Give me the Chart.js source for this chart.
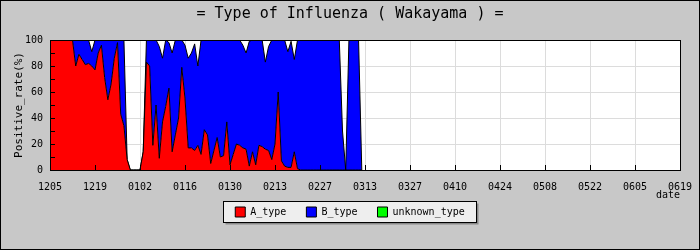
<!DOCTYPE html>
<html lang="en">
<head>
<meta charset="UTF-8">
<title>Type of Influenza ( Wakayama )</title>
<script src="https://cdn.jsdelivr.net/npm/chart.js"></script>
<style>
    body { margin: 0; background: #c8c8c8; }
    #wrap { width: 700px; height: 250px; }
</style>
</head>
<body>
<div id="wrap"><canvas id="fluChart" width="700" height="250"></canvas></div>
<script>
// tick labels, one every 14 days (1205 .. 0619)
var tickLabels = ['1205', '1219', '0102', '0116', '0130', '0213', '0227', '0313',
    '0327', '0410', '0424', '0508', '0522', '0605', '0619'];

// daily positive rate (%) from 1205
var aType = [100, 100, 100, 100, 100, 100, 100, 100, 80, 89,
    85, 81, 82, 80, 77, 90, 96, 71, 54, 66,
    86, 98, 43, 34, 8, 0, 0, 0, 0, 14,
    83, 80, 19, 50, 9, 37, 49, 63, 14, 27,
    40, 79, 55, 17, 17, 15, 19, 12, 31, 27,
    5, 15, 25, 10, 11, 37, 4, 12, 20, 19,
    17, 16, 3, 14, 4, 19, 18, 16, 15, 8,
    20, 60, 7, 3, 2, 2, 14, 1, 0, 0,
    0, 0, 0, 0, 0, 0, 0, 0, 0, 0,
    0, 0, 0, 0, 0, 0, 0, 0];
var bType = [0, 0, 0, 0, 0, 0, 0, 0, 20, 11,
    15, 19, 18, 11, 23, 10, 4, 29, 46, 34,
    14, 2, 57, 66, 0, 0, 0, 0, 0, 0,
    17, 20, 81, 50, 86, 49, 51, 35, 76, 73,
    60, 21, 41, 69, 73, 82, 61, 88, 69, 73,
    95, 85, 75, 90, 89, 63, 96, 88, 80, 81,
    79, 74, 96, 86, 96, 81, 82, 67, 80, 92,
    80, 40, 93, 97, 89, 97, 71, 99, 100, 100,
    100, 100, 100, 100, 100, 100, 100, 100, 100, 100,
    100, 30, 0, 100, 100, 100, 100, 0];
var unknownType = [];

function toPoints(values) {
    return values.map(function (v, i) { return { x: i, y: v }; });
}

var frame = {
    id: 'frame',
    afterLayout: function (chart) {
        // pull the legend up under the date label
        var lg = chart.legend, dy = -13;
        lg.top += dy;
        lg.bottom += dy;
    },
    beforeDraw: function (chart) {
        var ctx = chart.ctx;
        var a = chart.chartArea;
        ctx.save();
        ctx.fillStyle = '#c8c8c8';
        ctx.fillRect(0, 0, chart.width, chart.height);
        ctx.fillStyle = '#ffffff';
        ctx.fillRect(a.left, a.top, a.right - a.left, a.bottom - a.top);

        // legend panel with shadow
        var boxes = chart.legend.legendHitBoxes;
        if (boxes && boxes.length) {
            var first = boxes[0], last = boxes[boxes.length - 1];
            var lx = Math.round(first.left - 12) + 0.5;
            var rx = Math.round(last.left + last.width + 11) + 0.5;
            var ty = Math.round(first.top - 6) + 0.5;
            var by = Math.round(first.top + first.height + 5) + 0.5;
            ctx.fillStyle = '#888888';
            ctx.fillRect(lx + 2, ty + 2, rx - lx, by - ty);
            ctx.fillStyle = '#eeeeee';
            ctx.fillRect(lx, ty, rx - lx, by - ty);
            ctx.strokeStyle = '#000';
            ctx.lineWidth = 1;
            ctx.strokeRect(lx, ty, rx - lx, by - ty);
        }
        ctx.restore();
    },
    afterDatasetsDraw: function (chart) {
        var ctx = chart.ctx;
        var a = chart.chartArea;
        var xs = chart.scales.x, ys = chart.scales.y;
        ctx.save();
        ctx.strokeStyle = '#000';
        ctx.lineWidth = 1;
        ctx.beginPath();
        for (var v = 10; v < 100; v += 10) {
            var py = Math.round(ys.getPixelForValue(v)) + 0.5;
            ctx.moveTo(a.left, py);
            ctx.lineTo(a.left + 5, py);
        }
        for (var d = 14; d < 196; d += 14) {
            var px = Math.round(xs.getPixelForValue(d)) + 0.5;
            ctx.moveTo(px, a.bottom);
            ctx.lineTo(px, a.bottom - 5);
        }
        ctx.stroke();
        ctx.strokeRect(Math.round(a.left) + 0.5, Math.round(a.top) + 0.5,
            Math.round(a.right - a.left), Math.round(a.bottom - a.top));
        ctx.restore();
    },
    afterDraw: function (chart) {
        var ctx = chart.ctx;
        ctx.save();
        ctx.strokeStyle = '#000';
        ctx.lineWidth = 1;
        ctx.strokeRect(0.5, 0.5, chart.width - 1, chart.height - 1);
        ctx.restore();
    }
};

var mono = 'DejaVu Sans Mono';

var ctxFlu = document.getElementById('fluChart').getContext('2d');
var fluChart = new Chart(ctxFlu, {
    type: 'line',
    data: {
        datasets: [{
            label: 'A_type',
            data: toPoints(aType),
            backgroundColor: '#ff0000',
            borderColor: '#000000',
            borderWidth: 1,
            fill: 'origin'
        }, {
            label: 'B_type',
            data: toPoints(bType),
            backgroundColor: '#0000ff',
            borderColor: '#000000',
            borderWidth: 1,
            fill: '-1'
        }, {
            label: 'unknown_type',
            data: unknownType,
            backgroundColor: '#00ff00',
            borderColor: '#000000',
            borderWidth: 1,
            fill: '-1'
        }]
    },
    options: {
        responsive: false,
        animation: false,
        devicePixelRatio: 1,
        elements: { point: { radius: 0 }, line: { tension: 0 } },
        layout: { padding: { left: 20, right: 20, top: 0, bottom: 10 } },
        plugins: {
            title: {
                display: true,
                text: '= Type of Influenza ( Wakayama ) =',
                color: '#000',
                font: { family: mono, size: 15, weight: 'normal' },
                padding: { top: 5, bottom: 17 }
            },
            legend: {
                position: 'bottom',
                labels: {
                    boxWidth: 10,
                    boxHeight: 10,
                    padding: 20,
                    color: '#000',
                    font: { family: mono, size: 10 }
                }
            },
            tooltip: { enabled: false }
        },
        scales: {
            x: {
                type: 'linear',
                min: 0,
                max: 196,
                border: { display: false },
                grid: { color: '#dcdcdc', drawTicks: false },
                ticks: {
                    stepSize: 14,
                    padding: 11,
                    color: '#000',
                    maxRotation: 0,
                    font: { family: mono, size: 10 },
                    callback: function (value) { return tickLabels[value / 14]; }
                },
                title: {
                    display: true,
                    text: 'date',
                    align: 'end',
                    color: '#000',
                    font: { family: mono, size: 10 },
                    padding: { top: 0, bottom: -1.5 }
                },
                afterFit: function (scale) {
                    scale.height = 30;
                    scale.paddingRight = 12;
                    scale.paddingLeft = 12;
                }
            },
            y: {
                stacked: true,
                min: 0,
                max: 100,
                border: { display: false },
                grid: { color: '#dcdcdc', drawTicks: false },
                ticks: {
                    stepSize: 20,
                    padding: 7,
                    color: '#000',
                    font: { family: mono, size: 10 }
                },
                title: {
                    display: true,
                    text: 'Positive_rate(%)',
                    color: '#000',
                    font: { family: mono, size: 11 },
                    padding: { top: -7.6, bottom: 0 }
                },
                afterFit: function (scale) { scale.width = 30; }
            }
        }
    },
    plugins: [frame]
});
</script>
</body>
</html>
